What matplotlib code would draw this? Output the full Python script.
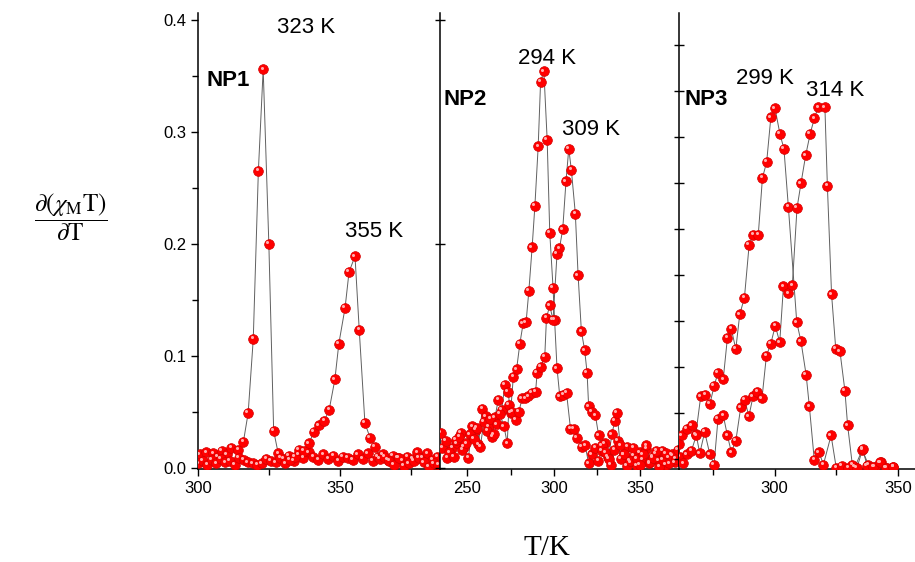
import matplotlib
matplotlib.use('Agg')
import matplotlib.pyplot as plt
from matplotlib.ticker import MultipleLocator, FixedLocator, FormatStrFormatter
from matplotlib.transforms import offset_copy

plt.rcParams['font.family'] = ['Liberation Sans', 'DejaVu Sans']
plt.rcParams['mathtext.fontset'] = 'stix'

# ---- NP1 ----
np1_heat_T = [300.5, 302.9, 305.3, 306.8, 308.2, 310.0, 311.7, 314.1, 315.9, 317.6, 319.4, 321.2,
              322.9, 324.9, 326.6, 328.2, 330.1, 331.9, 333.6, 335.4, 337.1, 338.9, 340.6, 342.4,
              344.1, 345.9, 347.6, 349.4, 351.1, 352.8, 354.6, 356.3, 358.1, 359.8, 361.6, 363.3,
              365.1, 366.8, 368.6, 370.3, 372.1, 373.8, 375.6, 377.3, 379.1, 380.8, 382.6, 384.3]
np1_heat_v = [0.012, 0.014, 0.013, 0.010, 0.015, 0.012, 0.018, 0.016, 0.023, 0.049, 0.115, 0.265,
              0.356, 0.200, 0.033, 0.013, 0.008, 0.011, 0.006, 0.012, 0.009, 0.014, 0.010, 0.007,
              0.012, 0.008, 0.011, 0.006, 0.010, 0.009, 0.007, 0.012, 0.008, 0.013, 0.006, 0.010,
              0.012, 0.007, 0.011, 0.009, 0.006, 0.010, 0.008, 0.014, 0.009, 0.013, 0.007, 0.010]
np1_cool_T = [300.0, 301.6, 303.2, 304.8, 306.4, 308.0, 309.6, 311.2, 312.8, 314.4, 316.0, 317.6,
              319.2, 320.8, 322.4, 324.0, 325.6, 327.3, 329.0, 330.7, 332.4, 334.1, 335.5, 337.3,
              339.1, 340.8, 342.6, 344.5, 346.2, 348.2, 349.6, 351.8, 353.2, 355.3, 356.8, 358.8,
              360.6, 362.4, 364.0, 365.7, 367.4, 369.1, 370.8, 372.5, 374.2, 376.0, 377.8, 379.6,
              381.3, 383.0, 384.7]
np1_cool_v = [0.004, 0.006, 0.003, 0.007, 0.004, 0.008, 0.005, 0.006, 0.003, 0.009, 0.007, 0.005,
              0.004, 0.003, 0.004, 0.008, 0.006, 0.005, 0.009, 0.004, 0.007, 0.010, 0.016, 0.015,
              0.022, 0.032, 0.038, 0.042, 0.052, 0.079, 0.111, 0.143, 0.175, 0.189, 0.123, 0.040,
              0.027, 0.019, 0.008, 0.010, 0.006, 0.003, 0.009, 0.002, 0.004, 0.006, 0.009, 0.005,
              0.001, 0.004, 0.003]

# ---- NP2 ----
np2_a_T = [234.7, 238.5, 241.3, 244.0, 246.2, 248.1, 250.6, 252.9, 254.8, 256.4, 258.7, 260.6,
           262.5, 264.4, 266.0, 267.9, 269.8, 271.8, 273.6, 275.0, 276.6, 278.5, 280.4, 282.3,
           284.0, 285.6, 287.5, 289.1, 291.0, 292.4, 294.3, 296.2, 297.7, 299.6, 300.5, 301.9,
           303.5, 305.5, 307.4, 309.7, 311.6, 313.5, 316.4, 318.2, 320.2, 322.0, 324.0, 325.8,
           327.7, 329.5, 331.4, 333.2, 335.1, 336.9, 338.8, 340.6, 342.5, 344.3, 346.2, 348.0,
           349.9, 351.7, 353.6, 355.4, 357.3, 359.1, 361.0, 362.8, 364.7, 366.5, 368.4, 370.2]
np2_a_v = [0.031, 0.009, 0.018, 0.022, 0.031, 0.019, 0.009, 0.037, 0.034, 0.021, 0.053, 0.046,
           0.037, 0.028, 0.045, 0.061, 0.052, 0.074, 0.068, 0.049, 0.081, 0.088, 0.111, 0.129,
           0.130, 0.158, 0.197, 0.234, 0.287, 0.345, 0.354, 0.293, 0.210, 0.161, 0.132, 0.089,
           0.064, 0.065, 0.067, 0.035, 0.035, 0.027, 0.019, 0.020, 0.004, 0.012, 0.018, 0.006,
           0.015, 0.022, 0.010, 0.003, 0.016, 0.024, 0.008, 0.012, 0.019, 0.005, 0.011, 0.002,
           0.014, 0.007, 0.017, 0.004, 0.010, 0.013, 0.006, 0.015, 0.003, 0.009, 0.012, 0.005]
np2_b_T = [235.5, 237.4, 239.5, 242.2, 243.3, 245.3, 247.2, 249.5, 251.6, 253.8, 255.6, 257.5,
           259.6, 261.5, 263.4, 265.2, 267.1, 268.9, 271.2, 273.1, 274.1, 276.0, 277.9, 279.8,
           281.7, 283.5, 285.3, 287.5, 289.5, 290.4, 292.4, 294.8, 295.8, 297.7, 299.6, 301.9,
           303.3, 305.2, 307.1, 308.7, 310.2, 312.5, 314.1, 316.0, 317.9, 319.3, 320.2, 322.2,
           324.1, 326.0, 327.9, 329.8, 331.7, 333.6, 335.4, 336.6, 338.5, 340.4, 342.3, 344.2,
           346.1, 348.0, 349.8, 351.7, 353.6, 355.5, 357.4, 359.3, 361.1, 363.0, 364.9, 366.8,
           368.7, 370.6, 372.0]
np2_b_v = [0.018, 0.024, 0.014, 0.010, 0.025, 0.028, 0.016, 0.022, 0.030, 0.026, 0.036, 0.019,
           0.041, 0.033, 0.044, 0.030, 0.039, 0.048, 0.037, 0.022, 0.056, 0.050, 0.043, 0.050,
           0.062, 0.062, 0.064, 0.067, 0.068, 0.085, 0.090, 0.099, 0.134, 0.145, 0.132, 0.191,
           0.196, 0.213, 0.256, 0.285, 0.266, 0.227, 0.172, 0.122, 0.105, 0.085, 0.055, 0.050,
           0.047, 0.029, 0.020, 0.014, 0.008, 0.030, 0.042, 0.049, 0.020, 0.012, 0.002, 0.006,
           0.018, 0.008, 0.003, 0.012, 0.020, 0.005, 0.009, 0.015, 0.001, 0.007, 0.013, 0.004,
           0.011, 0.008, 0.016]

# ---- NP3 ----
np3_a_T = [261.1, 262.4, 264.5, 266.5, 268.1, 270.1, 272.0, 273.8, 275.5, 277.1, 279.2, 280.9,
           282.5, 284.3, 285.9, 287.8, 289.7, 291.4, 293.4, 295.1, 296.8, 298.5, 300.2, 302.2,
           303.8, 305.6, 309.0, 310.7, 312.8, 314.1, 316.1, 318.0, 319.8, 322.9, 325.0, 327.2,
           329.9, 332.6, 335.5, 338.0, 340.5, 343.0, 345.5, 348.1]
np3_a_v = [0.021, 0.029, 0.035, 0.038, 0.030, 0.064, 0.065, 0.057, 0.073, 0.085, 0.079, 0.116,
           0.124, 0.106, 0.137, 0.152, 0.199, 0.208, 0.208, 0.259, 0.273, 0.313, 0.321, 0.298,
           0.285, 0.233, 0.130, 0.113, 0.083, 0.055, 0.007, 0.014, 0.003, 0.029, 0.000, 0.002,
           0.000, 0.001, 0.016, 0.003, 0.001, 0.005, 0.000, 0.001]
np3_b_T = [261.5, 263.0, 264.5, 266.3, 268.3, 269.7, 271.7, 273.8, 275.5, 277.1, 279.2, 280.9,
           282.5, 284.3, 286.3, 287.9, 289.6, 291.3, 293.0, 294.9, 296.7, 298.5, 300.3, 302.1,
           303.6, 305.6, 307.2, 309.1, 310.7, 312.6, 314.4, 316.1, 317.7, 320.4, 321.4, 323.1,
           324.8, 326.5, 328.5, 329.6, 331.5, 333.4, 335.7, 337.5, 340.0, 342.7, 345.0, 348.1]
np3_b_v = [0.010, 0.004, 0.012, 0.015, 0.029, 0.013, 0.032, 0.012, 0.003, 0.044, 0.047, 0.029,
           0.014, 0.024, 0.054, 0.061, 0.046, 0.064, 0.068, 0.062, 0.100, 0.111, 0.127, 0.112,
           0.162, 0.156, 0.163, 0.232, 0.254, 0.279, 0.298, 0.312, 0.322, 0.322, 0.252, 0.155,
           0.106, 0.104, 0.069, 0.038, 0.003, 0.000, 0.017, 0.002, 0.001, 0.005, 0.000, 0.001]

panels = [
    ('NP1', [(np1_heat_T, np1_heat_v), (np1_cool_T, np1_cool_v)], (300, 385.3),
     [('323 K', 327.8, 0.393), ('355 K', 351.7, 0.211)], (303.0, 0.346)),
    ('NP2', [(np2_a_T, np2_a_v), (np2_b_T, np2_b_v)], (234.2, 372.5),
     [('294 K', 279.3, 0.366), ('309 K', 304.7, 0.302)], (236.5, 0.329)),
    ('NP3', [(np3_a_T, np3_a_v), (np3_b_T, np3_b_v)], (261.3, 356.9),
     [('299 K', 284.4, 0.348), ('314 K', 312.8, 0.337)], (263.4, 0.329)),
]

fig = plt.figure(figsize=(9.15, 5.62), dpi=100)
boxes = [[0.2167, 0.1655, 0.2642, 0.811],
         [0.4809, 0.1655, 0.2612, 0.811],
         [0.7421, 0.1655, 0.2579, 0.811]]

for i, (name, series, xlim, labels, name_pos) in enumerate(panels):
    ax = fig.add_axes(boxes[i])
    shine = offset_copy(ax.transData, fig=fig, x=-1.2, y=1.2, units='points')
    for T, v in series:
        ax.plot(T, v, '-', color='#606060', lw=0.7, zorder=2)
        ax.plot(T, v, 'o', color='#ff0000', ms=7, mec='#d40000', mew=0.5, zorder=3)
        ax.plot(T, v, 'o', color='#ffb0b0', ms=2.2, mew=0, zorder=4, transform=shine)
    ax.set_xlim(*xlim)
    ax.set_ylim(-0.001, 0.406)
    ax.spines['top'].set_visible(False)
    ax.spines['right'].set_visible(False)
    for s in ax.spines.values():
        s.set_linewidth(1.1)
    ax.xaxis.set_major_locator(MultipleLocator(50))
    ax.xaxis.set_minor_locator(MultipleLocator(25))
    ax.tick_params(axis='x', which='both', direction='out', labelsize=12, width=1)
    ax.tick_params(axis='x', which='major', length=5)
    ax.tick_params(axis='x', which='minor', length=4)
    if i == 0:
        ax.yaxis.set_major_locator(MultipleLocator(0.1))
        ax.yaxis.set_minor_locator(MultipleLocator(0.05))
        ax.tick_params(axis='y', which='both', direction='out', labelsize=12, width=1)
        ax.tick_params(axis='y', which='major', length=5)
        ax.tick_params(axis='y', which='minor', length=4)
        ax.yaxis.set_major_formatter(FormatStrFormatter('%.1f'))
    elif i == 1:
        ax.yaxis.set_major_locator(FixedLocator([0.0, 0.2, 0.4]))
        ax.tick_params(axis='y', direction='inout', length=7, labelleft=False, width=1)
    else:
        ax.yaxis.set_major_locator(FixedLocator([0.008 + 0.0411 * k for k in range(10)]))
        ax.tick_params(axis='y', direction='inout', length=7, labelleft=False, width=1)
    for txt, tx, ty in labels:
        ax.text(tx, ty, txt, fontsize=16, ha='left', va='center')
    ax.text(name_pos[0], name_pos[1], name, fontsize=16, fontweight='bold', ha='left', va='center')

fig.text(0.078, 0.614, r'$\dfrac{\partial(\chi_{\mathrm{M}}\mathrm{T})}{\partial\mathrm{T}}$',
         fontsize=18, ha='center', va='center')
fig.text(0.598, 0.025, 'T/K', fontsize=21, family='Liberation Serif', ha='center', va='center')

fig.savefig('out.png', dpi=100)
